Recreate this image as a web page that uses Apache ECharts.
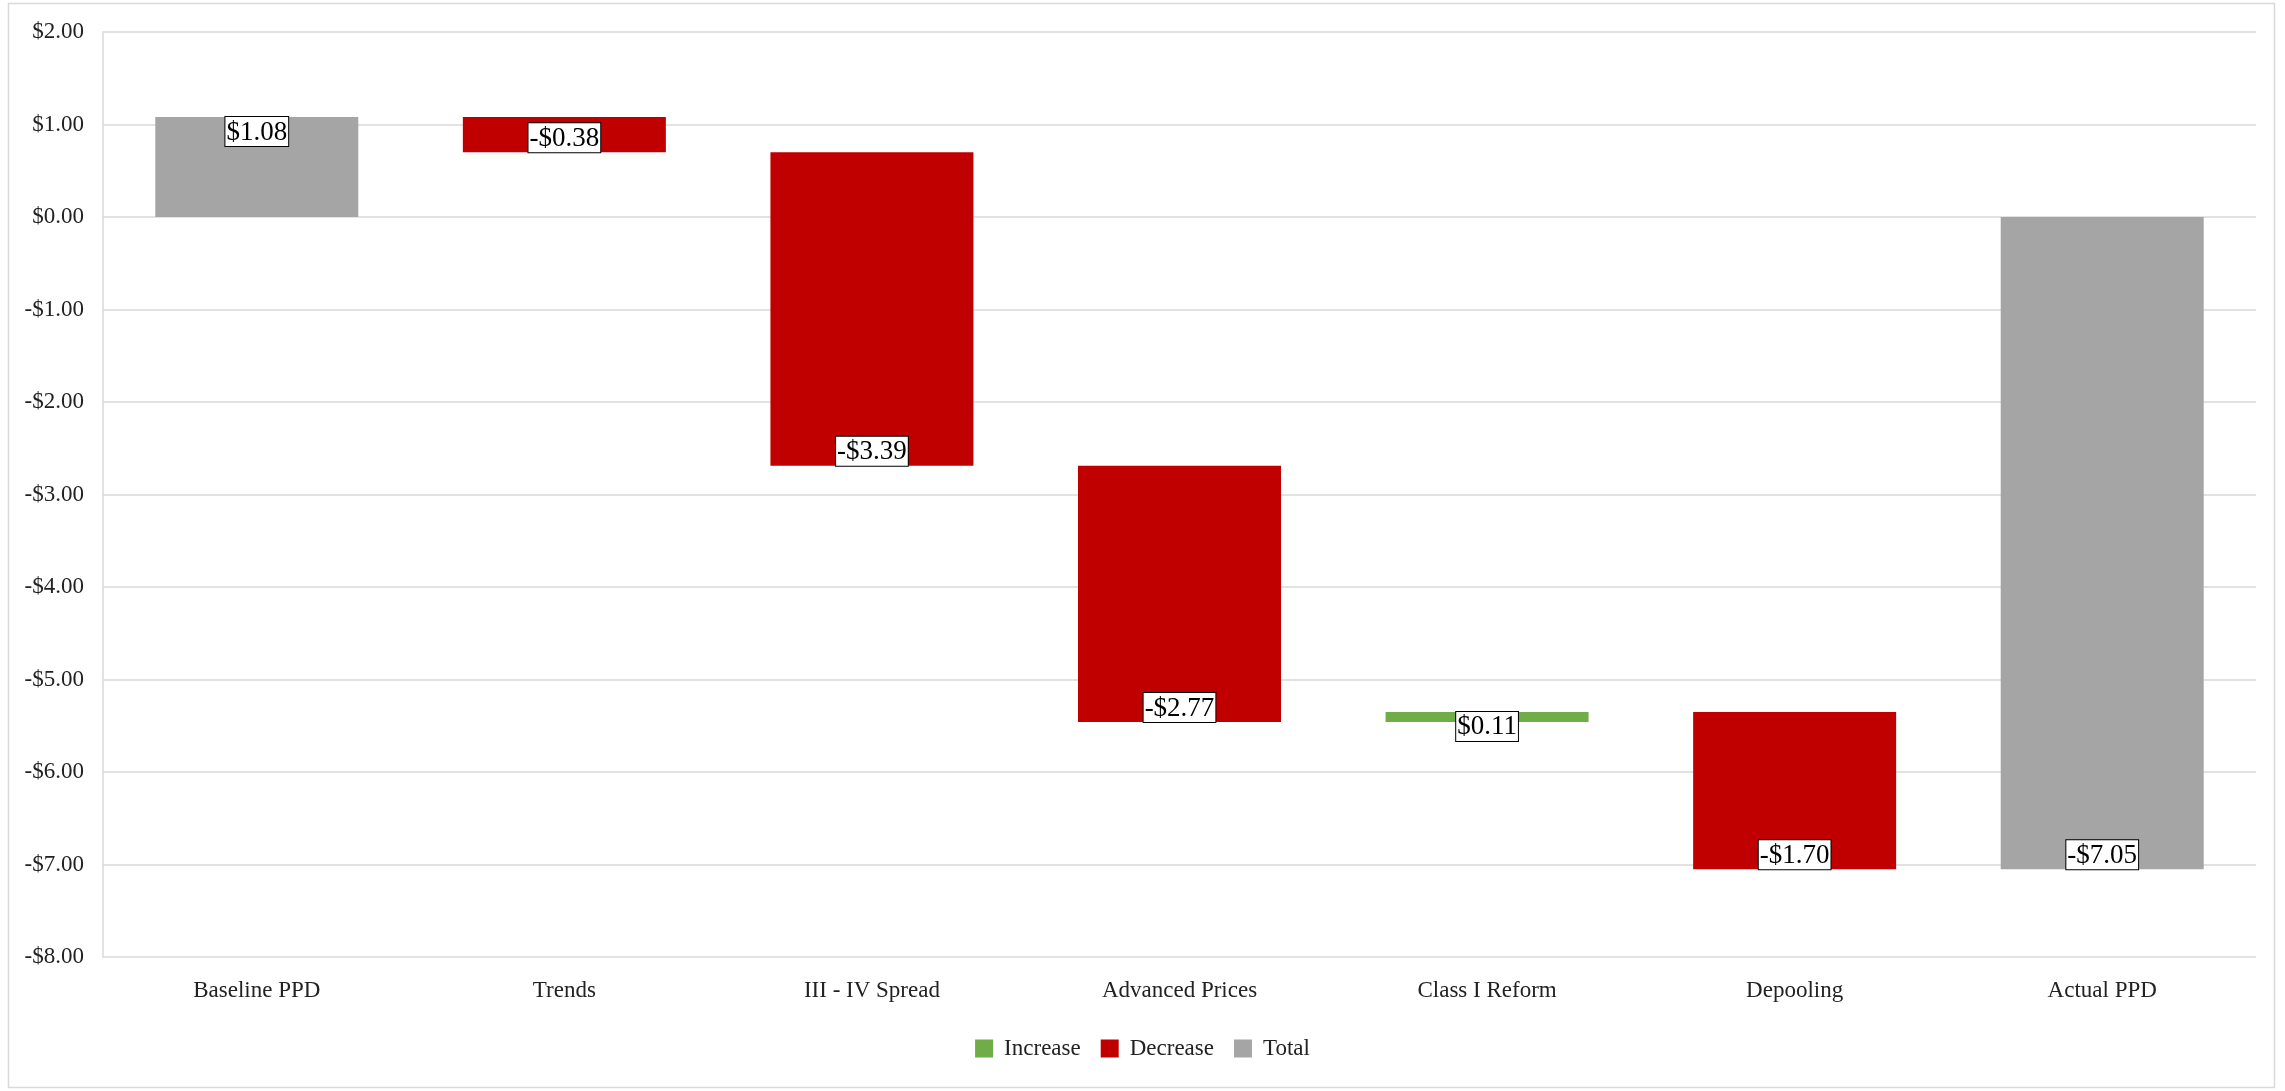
<!DOCTYPE html>
<html><head><meta charset="utf-8">
<script src="https://cdn.jsdelivr.net/npm/echarts@6/dist/echarts.min.js"></script>
<style>html,body{margin:0;padding:0;background:#fff}#c{width:2285px;height:1091px}</style>
</head><body><div id="c"></div>
<script>
const categories = ['Baseline PPD','Trends','III - IV Spread','Advanced Prices','Class I Reform','Depooling','Actual PPD'];
const deltas = [1.08, -0.38, -3.39, -2.77, 0.11, -1.70, -7.05];
const kinds = ['total','decrease','decrease','decrease','increase','decrease','total'];
const yTicks = {min: -8, max: 2, interval: 1};

const colors = {increase:'#70ad47', decrease:'#c00000', total:'#a5a5a5'};
const names = {increase:'Increase', decrease:'Decrease', total:'Total'};
const FONT = '"Liberation Serif","Times New Roman",serif';

function money(v){ return (v < 0 ? '-$' : '$') + Math.abs(v).toFixed(2); }

// build floating ranges
const items = {increase:[], decrease:[], total:[]};
let run = 0;
deltas.forEach((d,i)=>{
  let s, e;
  if (kinds[i] === 'total') { s = 0; e = d; run = d; }
  else { s = run; e = run + d; run = e; }
  items[kinds[i]].push([i, s, e, d]);
});

function renderItem(params, api){
  const i = api.value(0), s = api.value(1), e = api.value(2), d = api.value(3);
  const p1 = api.coord([i, s]), p2 = api.coord([i, e]);
  const w = api.size([1,0])[0] * 0.66;
  const top = Math.min(p1[1], p2[1]), h = Math.abs(p1[1]-p2[1]);
  return {
    type:'rect',
    shape:{x:p1[0]-w/2, y:top, width:w, height:h},
    style:{fill: api.visual('color')},
    textContent:{
      style:{text: money(d), fill:'#000', font:'27px '+FONT, backgroundColor:'#fff',
             borderColor:'#000', borderWidth:1, padding:[2,1,0,1]}
    },
    textConfig:{position: d > 0 ? 'insideTop' : 'insideBottom', distance:0}
  };
}

const series = ['increase','decrease','total'].map(k=>({
  type:'custom', name:names[k], renderItem, itemStyle:{color:colors[k]},
  encode:{x:0, y:[1,2]}, data:items[k], z:2
}));

const chart = echarts.init(document.getElementById('c'));
chart.setOption({
  animation:false,
  graphic:[{type:'rect', shape:{x:8.5,y:3.5,width:2266,height:1084}, style:{fill:null, stroke:'#d9d9d9', lineWidth:1.5}, silent:true}],
  grid:{left:103, right:29, top:32, bottom:134},
  legend:{left:'center', top:1032, itemWidth:18, itemHeight:18, itemGap:20, icon:'rect',
    textStyle:{fontFamily:FONT, fontSize:23, color:'#222', padding:[0,0,0,6]},
    data:['Increase','Decrease','Total']},
  xAxis:{type:'category', data:categories,
    axisLine:{show:false}, axisTick:{show:false},
    axisLabel:{margin:22, fontFamily:FONT, fontSize:23, color:'#222', interval:0}},
  yAxis:{type:'value', min:yTicks.min, max:yTicks.max, interval:yTicks.interval,
    axisLine:{show:true, lineStyle:{color:'#d9d9d9', width:1.5}},
    splitLine:{lineStyle:{color:'#d9d9d9', width:1.5}},
    axisLabel:{margin:19, fontFamily:FONT, fontSize:23, color:'#222', formatter:money}},
  series
});
</script></body></html>
